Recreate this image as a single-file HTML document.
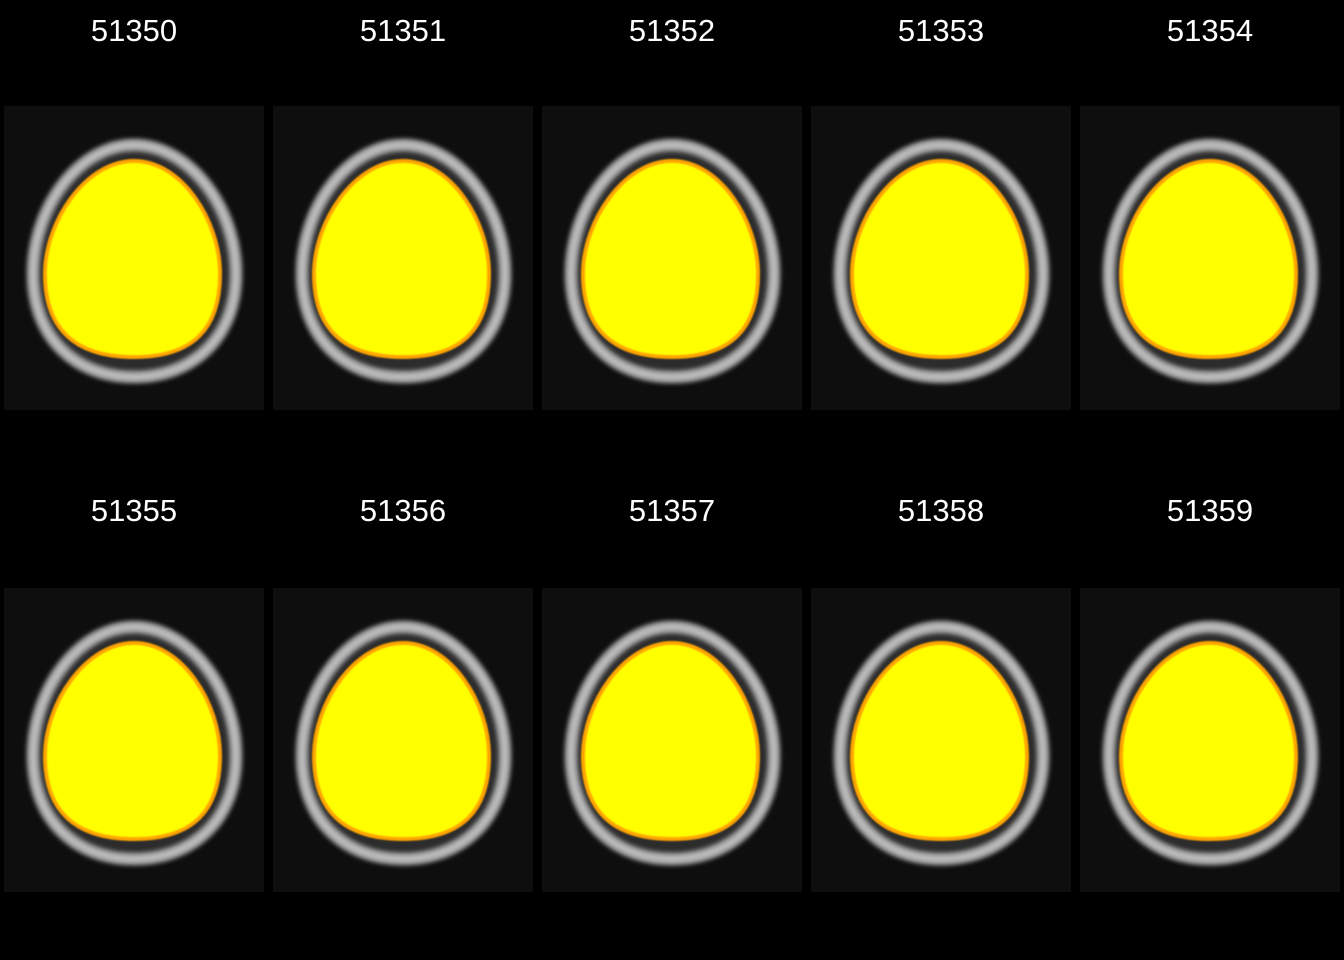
<!DOCTYPE html>
<html><head><meta charset="utf-8"><style>
html,body{margin:0;padding:0;background:#000;width:1344px;height:960px;overflow:hidden}
svg{display:block}
</style></head><body>
<svg id="chart" width="1344" height="960" xmlns="http://www.w3.org/2000/svg">
<defs>
<filter id="soft" x="-10%" y="-10%" width="120%" height="120%"><feGaussianBlur stdDeviation="2.2"/></filter>
<filter id="soft2"><feGaussianBlur stdDeviation="0.8"/></filter>
</defs>
<rect x="0" y="0" width="1344" height="960" fill="#000"/>
</svg>
<script>
const subjectIds = ["51350","51351","51352","51353","51354","51355","51356","51357","51358","51359"];
const nCols = 5;
const svg = document.getElementById('chart');
const NS = 'http://www.w3.org/2000/svg';
const colX = [4,273,542,811,1080];
const rowY = [106,588];
const titleY = [30,510];
const skull = "M130,39 C184,39 232,100 232,168 C232,232 188,271 130,271 C72,271 29,232 29,168 C29,100 76,39 130,39 Z";
const brain = "M130,55 C178,55 216,115 216,168 C216,222 190,251 130,251 C70,251 41,222 41,168 C41,115 82,55 130,55 Z";
function mk(tag, attrs){const e=document.createElementNS(NS,tag);for(const k in attrs)e.setAttribute(k,attrs[k]);return e;}
subjectIds.forEach((id,i)=>{
  const c=i%nCols, r=Math.floor(i/nCols);
  const g=mk('g',{transform:`translate(${colX[c]},${rowY[r]})`});
  
  
  const bg=mk('rect',{x:0,y:0,width:260,height:304,fill:'#0e0e0e'});
  
  
  g.appendChild(bg);
  const inner=mk('path',{d:skull,fill:'#2c2c2c'});
  
  
  g.appendChild(inner);
  const ring=mk('path',{d:skull,fill:'none',stroke:'#9a9a9a','stroke-width':13,filter:'url(#soft)'});
  
  
  g.appendChild(ring);
  const ring2=mk('path',{d:skull,fill:'none',stroke:'#c8c8c8','stroke-width':4,filter:'url(#soft)'});
  
  
  g.appendChild(ring2);
  const b=mk('path',{d:brain,fill:'#ffff00',stroke:'#ffa500','stroke-width':4,filter:'url(#soft2)'});
  
  
  g.appendChild(b);
  svg.appendChild(g);
  const t=mk('text',{x:colX[c]+130,y:titleY[r]+11,'text-anchor':'middle',fill:'#fff','font-family':'Liberation Sans, sans-serif','font-size':31});
  t.textContent=id;
  
  
  svg.appendChild(t);
});
</script>
</body></html>
